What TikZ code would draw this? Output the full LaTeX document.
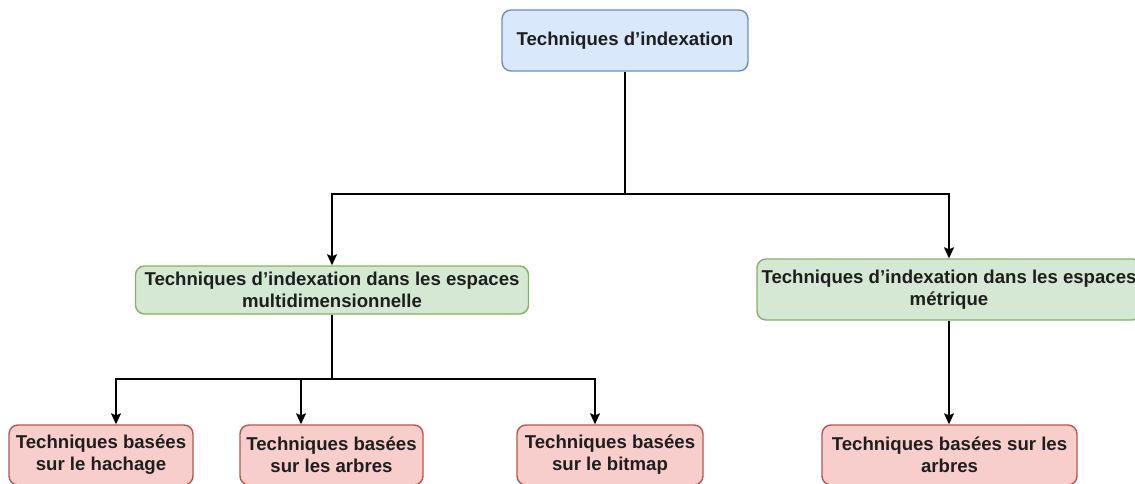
\documentclass[tikz,border=0pt]{standalone}
\usepackage{fontspec}
\setmainfont{Liberation Sans}
\usetikzlibrary{arrows.meta}
\definecolor{bluefill}{HTML}{DAE8FC}
\definecolor{blueline}{HTML}{6C8EBF}
\definecolor{greenfill}{HTML}{D5E8D4}
\definecolor{greenline}{HTML}{82B366}
\definecolor{redfill}{HTML}{F8CECC}
\definecolor{redline}{HTML}{B85450}
\definecolor{ink}{HTML}{1E1E1E}
\tikzset{
  box/.style={rounded corners=9pt, line width=1.4pt, align=center, inner sep=0pt,
    text=ink, font=\fontsize{18.6}{22}\selectfont\bfseries},
  rootbox/.style={box, fill=bluefill, draw=blueline},
  midbox/.style={box, fill=greenfill, draw=greenline},
  leafbox/.style={box, fill=redfill, draw=redline},
  arr/.style={line width=1.5pt, draw=black, -{Stealth[length=11pt,width=10pt,inset=2pt]}},
}
\begin{document}
\begin{tikzpicture}[x=1pt,y=-1pt]
  \useasboundingbox (0,0) rectangle (1135,484);
  \clip (0,0) rectangle (1135,484);

  % root
  \node[rootbox, minimum width=246pt, minimum height=61pt] (root) at (625,40.5) {Techniques d’indexation};

  % second level
  \node[midbox, minimum width=393pt, minimum height=48pt] (multi) at (332,290)
    {Techniques d’indexation dans les espaces\\multidimensionnelle};
  \node[midbox, minimum width=384pt, minimum height=61pt] (metric) at (949,289.5)
    {Techniques d’indexation dans les espaces\\métrique};

  % leaves
  \node[leafbox, minimum width=184pt, minimum height=60pt] (hash) at (101,455)
    {Techniques basées\\sur le hachage};
  \node[leafbox, minimum width=183pt, minimum height=60pt] (tree) at (331.5,455)
    {Techniques basées\\sur les arbres};
  \node[leafbox, minimum width=186pt, minimum height=60pt] (bitmap) at (610,455)
    {Techniques basées\\sur le bitmap};
  \node[leafbox, minimum width=255pt, minimum height=60pt] (mtree) at (949.5,455)
    {Techniques basées sur les\\arbres};

  % junction points of the elbow connectors
  \coordinate (j0) at (625,194);
  \coordinate (j1) at (332,379);

  \draw[arr] (root.south) -- (j0) -| (multi.north);
  \draw[arr] (j0) -| (metric.north);

  \draw[arr] (multi.south) -- (j1) -| (hash.north -| 116,0);
  \draw[arr] (j1) -| (tree.north -| 301,0);
  \draw[arr] (j1) -| (bitmap.north -| 595,0);

  \draw[arr] (metric.south) -- (mtree.north -| 949,0);
\end{tikzpicture}
\end{document}
